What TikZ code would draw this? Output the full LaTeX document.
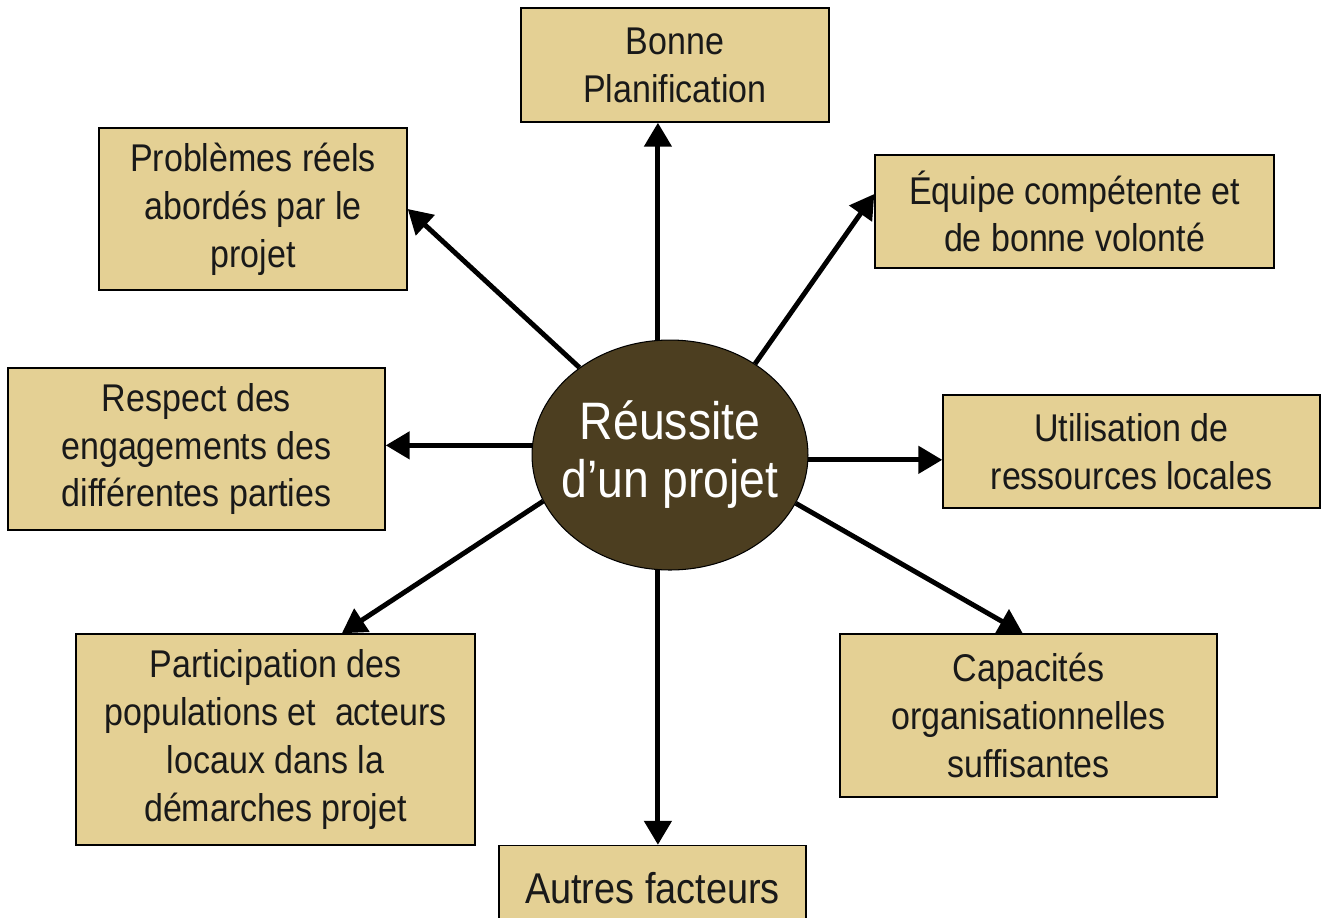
\documentclass[tikz,border=0pt]{standalone}
\usepackage{fontspec}
\setmainfont{Liberation Sans}[FakeStretch=0.88]
\usepackage{tikz}
\usetikzlibrary{positioning}
\usetikzlibrary{arrows.meta}
\usetikzlibrary{shapes.geometric}

\definecolor{boxfill}{RGB}{228,208,148}
\definecolor{ellfill}{RGB}{76,62,32}

\tikzset{
	facteur/.style={draw=black, line width=0.85pt, fill=boxfill, align=center, inner sep=0pt,
		font=\fontsize{22}{27.2}\selectfont, text=black!90},
	centre/.style={ellipse, draw=black, line width=0.6pt, fill=ellfill, align=center,
		inner ysep=0pt, inner xsep=-0.5cm, font=\fontsize{30}{37}\selectfont, text=white}
}

\begin{document}
\begin{tikzpicture}[->, >={Triangle[length=0.48cm,width=0.54cm]}, line width=2.8pt, x=0.02cm, y=-0.02cm]

		\useasboundingbox (0,0) rectangle (1324,917);

		% centre
		\node (ell) [centre, minimum width=5.52cm, minimum height=4.6cm] at (670,455) {\raisebox{-4pt}{R\'eussite}\\d'un projet};

		% factors above
		\node (bonne) [facteur, minimum width=6.16cm, minimum height=2.28cm] at (675,65) {Bonne\\Planification};
		\node (prob) [facteur, minimum width=6.16cm, minimum height=3.24cm] at (253,209) {Probl\`emes r\'eels\\abord\'es par le\\projet};
		\node (equipe) [facteur, minimum width=7.98cm, minimum height=2.26cm] at (1074.5,211.5) {\'Equipe comp\'etente et\\de bonne volont\'e};

		% factors at the sides
		\node (respect) [facteur, minimum width=7.54cm, minimum height=3.24cm] at (196.5,449) {Respect des\\engagements des\\diff\'erentes parties};
		\node (util) [facteur, minimum width=7.54cm, minimum height=2.26cm] at (1131.5,451.5) {Utilisation de\\ressources locales};

		% factors below
		\node (partic) [facteur, minimum width=7.98cm, minimum height=4.22cm] at (275.5,739.5) {Participation des\\populations et \ acteurs\\locaux dans la\\d\'emarches projet};
		\node (capac) [facteur, minimum width=7.54cm, minimum height=3.26cm] at (1028.5,715.5) {Capacit\'es\\organisationnelles\\suffisantes};
		\node (autres) [facteur, font=\fontsize{24.5}{30}\selectfont, minimum width=6.14cm, minimum height=1.7cm] at (652.5,888) {Autres facteurs};

		% arrows out of the centre
		\draw [->] (ell.96) -- (ell.96 |- bonne.south);
		\draw [->] (ell.264) -- (ell.264 |- autres.north);
		\draw [->] (ell.136.3) -- (prob.east);
		\draw [->] (ell.47.7) -- (equipe.175);
		\draw [->] (ell.176.7) -- (ell.176.7 -| respect.east);
		\draw [->] (ell.-2.5) -- (ell.-2.5 -| util.west);
		\draw [->] (ell.200.9) -- (partic.58.6);
		\draw [->] (ell.-21) -- (capac.94.6);

\end{tikzpicture}
\end{document}
